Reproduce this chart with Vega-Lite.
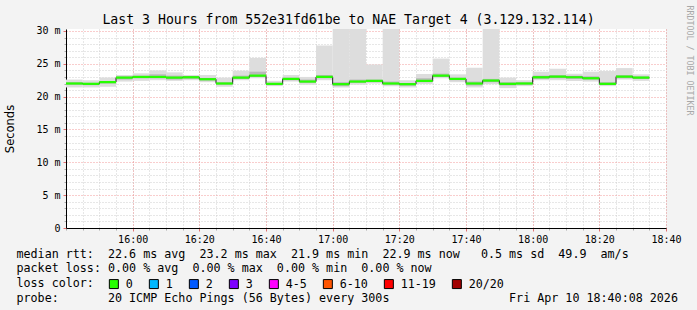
{
  "$schema": "https://vega.github.io/schema/vega-lite/v6.json",
  "width": 600,
  "height": 199,
  "autosize": {"type": "none"},
  "padding": {"left": 66, "top": 29, "right": 31, "bottom": 82},
  "background": "#f3f3f3",
  "config": {"view": {"fill": "white", "stroke": null}, "font": "DejaVu Sans Mono"},
  "title": {
    "text": "Last 3 Hours from 552e31fd61be to NAE Target 4 (3.129.132.114)",
    "font": "DejaVu Sans Mono", "fontSize": 13.2, "fontWeight": "normal", "color": "black",
    "anchor": "middle", "frame": "group", "dx": -17.5, "offset": -22
  },
  "data": {"values": [
    {"start": "2026-04-10T15:40:00Z", "end": "2026-04-10T15:45:00Z", "min": 21.4, "q1": 21.8, "med": 22.0, "q3": 22.2, "max": 22.6, "loss": "0"},
    {"start": "2026-04-10T15:45:00Z", "end": "2026-04-10T15:50:00Z", "min": 21.4, "q1": 21.75, "med": 21.95, "q3": 22.1, "max": 22.5, "loss": "0"},
    {"start": "2026-04-10T15:50:00Z", "end": "2026-04-10T15:55:00Z", "min": 21.5, "q1": 22.0, "med": 22.2, "q3": 22.4, "max": 22.9, "loss": "0"},
    {"start": "2026-04-10T15:55:00Z", "end": "2026-04-10T16:00:00Z", "min": 22.3, "q1": 22.6, "med": 22.9, "q3": 23.1, "max": 23.3, "loss": "0"},
    {"start": "2026-04-10T16:00:00Z", "end": "2026-04-10T16:05:00Z", "min": 22.4, "q1": 22.8, "med": 23.0, "q3": 23.2, "max": 23.55, "loss": "0"},
    {"start": "2026-04-10T16:05:00Z", "end": "2026-04-10T16:10:00Z", "min": 22.5, "q1": 22.8, "med": 23.0, "q3": 23.4, "max": 24.0, "loss": "0"},
    {"start": "2026-04-10T16:10:00Z", "end": "2026-04-10T16:15:00Z", "min": 22.4, "q1": 22.6, "med": 22.9, "q3": 23.2, "max": 23.7, "loss": "0"},
    {"start": "2026-04-10T16:15:00Z", "end": "2026-04-10T16:20:00Z", "min": 22.5, "q1": 22.7, "med": 22.95, "q3": 23.1, "max": 23.3, "loss": "0"},
    {"start": "2026-04-10T16:20:00Z", "end": "2026-04-10T16:25:00Z", "min": 22.2, "q1": 22.45, "med": 22.65, "q3": 22.85, "max": 23.3, "loss": "0"},
    {"start": "2026-04-10T16:25:00Z", "end": "2026-04-10T16:30:00Z", "min": 21.5, "q1": 21.8, "med": 22.0, "q3": 22.2, "max": 22.9, "loss": "0"},
    {"start": "2026-04-10T16:30:00Z", "end": "2026-04-10T16:35:00Z", "min": 22.5, "q1": 22.7, "med": 22.9, "q3": 23.2, "max": 23.95, "loss": "0"},
    {"start": "2026-04-10T16:35:00Z", "end": "2026-04-10T16:40:00Z", "min": 22.8, "q1": 23.0, "med": 23.2, "q3": 23.8, "max": 25.9, "loss": "0"},
    {"start": "2026-04-10T16:40:00Z", "end": "2026-04-10T16:45:00Z", "min": 21.6, "q1": 21.75, "med": 21.95, "q3": 22.1, "max": 22.4, "loss": "0"},
    {"start": "2026-04-10T16:45:00Z", "end": "2026-04-10T16:50:00Z", "min": 22.3, "q1": 22.5, "med": 22.7, "q3": 22.9, "max": 23.3, "loss": "0"},
    {"start": "2026-04-10T16:50:00Z", "end": "2026-04-10T16:55:00Z", "min": 21.8, "q1": 22.1, "med": 22.3, "q3": 22.6, "max": 23.0, "loss": "0"},
    {"start": "2026-04-10T16:55:00Z", "end": "2026-04-10T17:00:00Z", "min": 22.5, "q1": 22.8, "med": 23.0, "q3": 23.3, "max": 27.8, "loss": "0"},
    {"start": "2026-04-10T17:00:00Z", "end": "2026-04-10T17:05:00Z", "min": 21.4, "q1": 21.6, "med": 21.9, "q3": 22.2, "max": 31.0, "loss": "0"},
    {"start": "2026-04-10T17:05:00Z", "end": "2026-04-10T17:10:00Z", "min": 21.8, "q1": 22.1, "med": 22.3, "q3": 22.6, "max": 31.0, "loss": "0"},
    {"start": "2026-04-10T17:10:00Z", "end": "2026-04-10T17:15:00Z", "min": 22.0, "q1": 22.2, "med": 22.4, "q3": 22.6, "max": 24.9, "loss": "0"},
    {"start": "2026-04-10T17:15:00Z", "end": "2026-04-10T17:20:00Z", "min": 21.6, "q1": 21.8, "med": 22.0, "q3": 22.3, "max": 31.0, "loss": "0"},
    {"start": "2026-04-10T17:20:00Z", "end": "2026-04-10T17:25:00Z", "min": 21.4, "q1": 21.65, "med": 21.9, "q3": 22.0, "max": 22.5, "loss": "0"},
    {"start": "2026-04-10T17:25:00Z", "end": "2026-04-10T17:30:00Z", "min": 21.9, "q1": 22.2, "med": 22.4, "q3": 22.8, "max": 23.45, "loss": "0"},
    {"start": "2026-04-10T17:30:00Z", "end": "2026-04-10T17:35:00Z", "min": 22.8, "q1": 23.0, "med": 23.2, "q3": 23.5, "max": 25.8, "loss": "0"},
    {"start": "2026-04-10T17:35:00Z", "end": "2026-04-10T17:40:00Z", "min": 22.2, "q1": 22.5, "med": 22.7, "q3": 22.9, "max": 23.4, "loss": "0"},
    {"start": "2026-04-10T17:40:00Z", "end": "2026-04-10T17:45:00Z", "min": 21.4, "q1": 21.7, "med": 22.0, "q3": 22.3, "max": 24.4, "loss": "0"},
    {"start": "2026-04-10T17:45:00Z", "end": "2026-04-10T17:50:00Z", "min": 21.9, "q1": 22.2, "med": 22.45, "q3": 22.7, "max": 31.0, "loss": "0"},
    {"start": "2026-04-10T17:50:00Z", "end": "2026-04-10T17:55:00Z", "min": 21.3, "q1": 21.7, "med": 21.95, "q3": 22.2, "max": 22.9, "loss": "0"},
    {"start": "2026-04-10T17:55:00Z", "end": "2026-04-10T18:00:00Z", "min": 21.6, "q1": 21.8, "med": 22.0, "q3": 22.2, "max": 22.5, "loss": "0"},
    {"start": "2026-04-10T18:00:00Z", "end": "2026-04-10T18:05:00Z", "min": 22.5, "q1": 22.7, "med": 22.95, "q3": 23.2, "max": 23.8, "loss": "0"},
    {"start": "2026-04-10T18:05:00Z", "end": "2026-04-10T18:10:00Z", "min": 22.5, "q1": 22.8, "med": 23.05, "q3": 23.3, "max": 24.25, "loss": "0"},
    {"start": "2026-04-10T18:10:00Z", "end": "2026-04-10T18:15:00Z", "min": 22.4, "q1": 22.7, "med": 22.95, "q3": 23.2, "max": 23.5, "loss": "0"},
    {"start": "2026-04-10T18:15:00Z", "end": "2026-04-10T18:20:00Z", "min": 22.3, "q1": 22.6, "med": 22.8, "q3": 23.1, "max": 23.8, "loss": "0"},
    {"start": "2026-04-10T18:20:00Z", "end": "2026-04-10T18:25:00Z", "min": 21.6, "q1": 21.8, "med": 21.95, "q3": 22.2, "max": 23.9, "loss": "0"},
    {"start": "2026-04-10T18:25:00Z", "end": "2026-04-10T18:30:00Z", "min": 22.6, "q1": 22.8, "med": 23.05, "q3": 23.3, "max": 24.35, "loss": "0"},
    {"start": "2026-04-10T18:30:00Z", "end": "2026-04-10T18:35:00Z", "min": 22.4, "q1": 22.7, "med": 22.9, "q3": 23.1, "max": 23.4, "loss": "0"}
  ]},
  "resolve": {"axis": {"x": "independent", "y": "independent"}},
  "layer": [
    {
      "mark": {"type": "rect", "color": "#dddddd", "clip": true},
      "encoding": {
        "x": {"field": "start", "type": "temporal",
          "scale": {"type": "utc", "domain": [{"year": 2026, "month": 4, "date": 10, "hours": 15, "minutes": 40, "utc": true}, {"year": 2026, "month": 4, "date": 10, "hours": 18, "minutes": 40, "utc": true}]},
          "axis": {"orient": "bottom", "tickCount": 36, "grid": true, "gridColor": "#cfcfcf", "gridDash": [1, 2], "labels": false, "domain": false, "ticks": true, "tickSize": 2, "tickColor": "#aaaaaa", "title": null}},
        "x2": {"field": "end"},
        "y": {"field": "min", "type": "quantitative", "scale": {"domain": [0, 30.3], "nice": false, "zero": true},
          "axis": {"orient": "left", "values": [1,2,3,4,6,7,8,9,11,12,13,14,16,17,18,19,21,22,23,24,26,27,28,29], "grid": true, "gridColor": "#cfcfcf", "gridDash": [1, 2], "labels": false, "domain": false, "ticks": true, "tickSize": 2, "tickColor": "#aaaaaa", "title": null}},
        "y2": {"field": "max"}
      }
    },
    {
      "mark": {"type": "rect", "color": "#b9b9b9", "clip": true},
      "encoding": {
        "x": {"field": "start", "type": "temporal",
          "axis": {"orient": "bottom",
            "values": [
              {"year": 2026, "month": 4, "date": 10, "hours": 16, "minutes": 0, "utc": true},
              {"year": 2026, "month": 4, "date": 10, "hours": 16, "minutes": 20, "utc": true},
              {"year": 2026, "month": 4, "date": 10, "hours": 16, "minutes": 40, "utc": true},
              {"year": 2026, "month": 4, "date": 10, "hours": 17, "minutes": 0, "utc": true},
              {"year": 2026, "month": 4, "date": 10, "hours": 17, "minutes": 20, "utc": true},
              {"year": 2026, "month": 4, "date": 10, "hours": 17, "minutes": 40, "utc": true},
              {"year": 2026, "month": 4, "date": 10, "hours": 18, "minutes": 0, "utc": true},
              {"year": 2026, "month": 4, "date": 10, "hours": 18, "minutes": 20, "utc": true},
              {"year": 2026, "month": 4, "date": 10, "hours": 18, "minutes": 40, "utc": true}
            ],
            "labelExpr": "utcFormat(datum.value, '%H:%M')",
            "grid": true, "gridColor": "#f29a9a", "gridDash": [1, 2],
            "domain": true, "domainColor": "black", "domainWidth": 1,
            "ticks": true, "tickSize": 3, "tickColor": "#e07070",
            "labelFont": "DejaVu Sans Mono", "labelFontSize": 10, "labelColor": "black", "labelPadding": 3, "labelFlush": false,
            "title": [
              "median rtt:\u00a0\u00a022.6 ms avg\u00a0\u00a023.2 ms max\u00a0\u00a021.9 ms min\u00a0\u00a022.9 ms now\u00a0\u00a0\u00a00.5 ms sd\u00a0\u00a049.9\u00a0\u00a0am/s",
              "packet loss: 0.00 % avg\u00a0\u00a00.00 % max\u00a0\u00a00.00 % min\u00a0\u00a00.00 % now",
              "loss color:",
              "probe:\u00a0\u00a0\u00a0\u00a0\u00a0\u00a0\u00a020 ICMP Echo Pings (56 Bytes) every 300s\u00a0\u00a0\u00a0\u00a0\u00a0\u00a0\u00a0\u00a0\u00a0\u00a0\u00a0\u00a0\u00a0\u00a0\u00a0\u00a0\u00a0Fri Apr 10 18:40:08 2026"
            ],
            "titleFont": "DejaVu Sans Mono", "titleFontSize": 11.7, "titleFontWeight": "normal", "titleColor": "black",
            "titleLineHeight": 14.7, "titleAlign": "left", "titleAnchor": "start", "titleBaseline": "top",
            "titleX": -50, "titleY": 20, "titleAngle": 0}},
        "x2": {"field": "end"},
        "y": {"field": "q1", "type": "quantitative",
          "axis": {"orient": "left", "values": [0, 5, 10, 15, 20, 25, 30],
            "labelExpr": "datum.value == 0 ? '0' : datum.value + ' m'",
            "grid": true, "gridColor": "#f29a9a", "gridDash": [1, 2],
            "domain": true, "domainColor": "black", "domainWidth": 1,
            "ticks": true, "tickSize": 3, "tickColor": "#e07070",
            "labelFont": "DejaVu Sans Mono", "labelFontSize": 10, "labelColor": "black", "labelPadding": 3,
            "title": "Seconds", "titleFont": "DejaVu Sans", "titleFontSize": 11.5, "titleFontWeight": "normal", "titleColor": "black",
            "titleX": -56, "titleY": 99.5, "titleAlign": "center", "titleBaseline": "middle", "titleAngle": 270}},
        "y2": {"field": "q3"}
      }
    },
    {
      "mark": {"type": "rule", "color": "#202020", "strokeWidth": 1},
      "encoding": {
        "x": {"field": "start", "type": "temporal", "axis": null},
        "x2": {"field": "end"},
        "y": {"field": "med", "type": "quantitative", "axis": null}
      }
    },
    {
      "transform": [
        {"window": [{"op": "lag", "field": "med", "as": "prev"}], "sort": [{"field": "start"}]},
        {"filter": "datum.prev != null"}
      ],
      "mark": {"type": "rule", "color": "#202020", "strokeWidth": 1},
      "encoding": {
        "x": {"field": "start", "type": "temporal", "axis": null},
        "y": {"field": "med", "type": "quantitative", "axis": null},
        "y2": {"field": "prev"}
      }
    },
    {
      "mark": {"type": "rect", "height": 2.2},
      "encoding": {
        "x": {"field": "start", "type": "temporal", "axis": null},
        "x2": {"field": "end"},
        "y": {"field": "med", "type": "quantitative",
          "axis": {"orient": "right", "title": "RRDTOOL / TOBI OETIKER", "domain": false, "ticks": false, "labels": false, "grid": false,
            "titleAngle": 90, "titleX": 22, "titleY": -24, "titleAlign": "left", "titleBaseline": "middle",
            "titleFont": "DejaVu Sans Mono", "titleFontSize": 8.3, "titleFontWeight": "normal", "titleColor": "#a8a8a8"}},
        "color": {"field": "loss", "type": "nominal",
          "scale": {"domain": ["0", "1", "2", "3", "4-5", "6-10", "11-19", "20/20"],
                    "range": ["#26ff00", "#00b8ff", "#0059ff", "#7e00ff", "#ff00ff", "#ff5500", "#ff0000", "#a10000"]},
          "legend": {"orient": "none", "legendX": 42, "legendY": 249, "direction": "horizontal", "columns": 8, "title": null,
            "symbolType": "square", "symbolSize": 81, "symbolStrokeColor": "black", "symbolStrokeWidth": 1, "symbolOpacity": 1,
            "labelFont": "DejaVu Sans Mono", "labelFontSize": 11.7, "labelColor": "black", "labelOffset": 6, "columnPadding": 14}}
      }
    }
  ]
}
